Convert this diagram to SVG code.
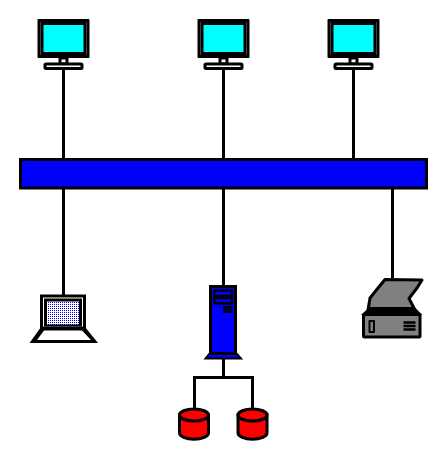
<svg xmlns="http://www.w3.org/2000/svg" width="446" height="459" viewBox="0 0 446 459">
<style>
.k{stroke:#000;stroke-width:3;fill:none}
.w{fill:#fff;stroke:#000;stroke-width:3}
.c{fill:#0ff;stroke:#000;stroke-width:3}
.b{fill:#00f;stroke:#000;stroke-width:3}
.r{fill:#f00;stroke:#000;stroke-width:3}
.g{fill:#808080;stroke:#000;stroke-width:3;stroke-linejoin:round}
.f{fill:#000}
</style>
<defs>
<pattern id="dots" width="2" height="2" patternUnits="userSpaceOnUse">
<rect width="2" height="2" fill="#fff"/><rect width="1" height="1" fill="#00f"/>
</pattern>
<g id="monitor">
<rect x="-26" y="-44.500" width="52" height="39" rx="1" fill="#000"/>
<rect x="-23" y="-41.500" width="46" height="33" fill="#fff"/>
<rect x="-21.500" y="-40" width="43" height="30" class="c"/>
<rect x="-3.500" y="-5.500" width="7" height="6" class="w"/>
<rect x="-18.500" y="0.500" width="37" height="4.500" rx="1" class="w"/>
</g>
<g id="drum">
<path d="M-14 6v18a14 6 0 0 0 29 0V6z" class="r"/>
<ellipse cx="0.500" cy="6" rx="14.500" ry="6" class="r"/>
</g>
</defs>
<g id="connectors" class="k">
<path d="M63.500 65V160M223.500 65V160M353.500 65V160M63.500 187V295M223.500 187V286M392.500 187V278M223.500 358V377.500M194.500 408V377.500H252.500V408"/>
</g>
<g id="bus"><rect x="20.500" y="159.500" width="406" height="28.500" class="b"/></g>
<use id="pc1" href="#monitor" x="63.500" y="63.500"/>
<use id="pc2" href="#monitor" x="223.500" y="63.500"/>
<use id="pc3" href="#monitor" x="353.500" y="63.500"/>
<g id="laptop">
<rect x="40" y="294.500" width="46" height="34" fill="#000"/>
<rect x="43" y="297.500" width="40" height="29" fill="#fff"/>
<rect x="44" y="298.500" width="38" height="28" fill="#000"/>
<rect x="47" y="301.500" width="32" height="23" fill="url(#dots)"/>
<path d="M41 327L29.500 343H98L85 327z" fill="#000"/>
<path d="M44 330.500L37 340H91L82 330.500z" fill="#fff"/>
</g>
<g id="server">
<rect x="210.500" y="286.500" width="25" height="67" class="b"/>
<path d="M209 354L205.500 358.500H241L237 354z" fill="#00f" stroke="#000" stroke-width="2"/>
<rect x="214.200" y="290.500" width="18" height="5.500" rx="1" fill="none" stroke="#000" stroke-width="2.500"/>
<rect x="214.200" y="298" width="18" height="5.500" rx="1" fill="none" stroke="#000" stroke-width="2.500"/>
<path d="M223 307H232.500M223 309.500H232.500M223 312H232.500" stroke="#000" stroke-width="2"/>
</g>
<g id="disk1"><use href="#drum" x="193.500" y="409"/></g>
<g id="disk2"><use href="#drum" x="252" y="409"/></g>
<g id="printer">
<path d="M385 279.500L422 280L417 288L409 298.500L415 310H368L370 298L378 288z" class="g"/>
<path d="M363.500 314L370 308H414L420 314z" class="f" stroke="#000" stroke-width="2"/>
<rect x="363.500" y="314.500" width="56.500" height="22.500" rx="1" class="g"/>
<rect x="369.500" y="321" width="4.500" height="11" class="g" style="stroke-width:2"/>
<path d="M403.500 322.500H415.500M403.500 326H415.500M403.500 329.500H415.500" stroke="#000" stroke-width="2.500"/>
</g>
</svg>
